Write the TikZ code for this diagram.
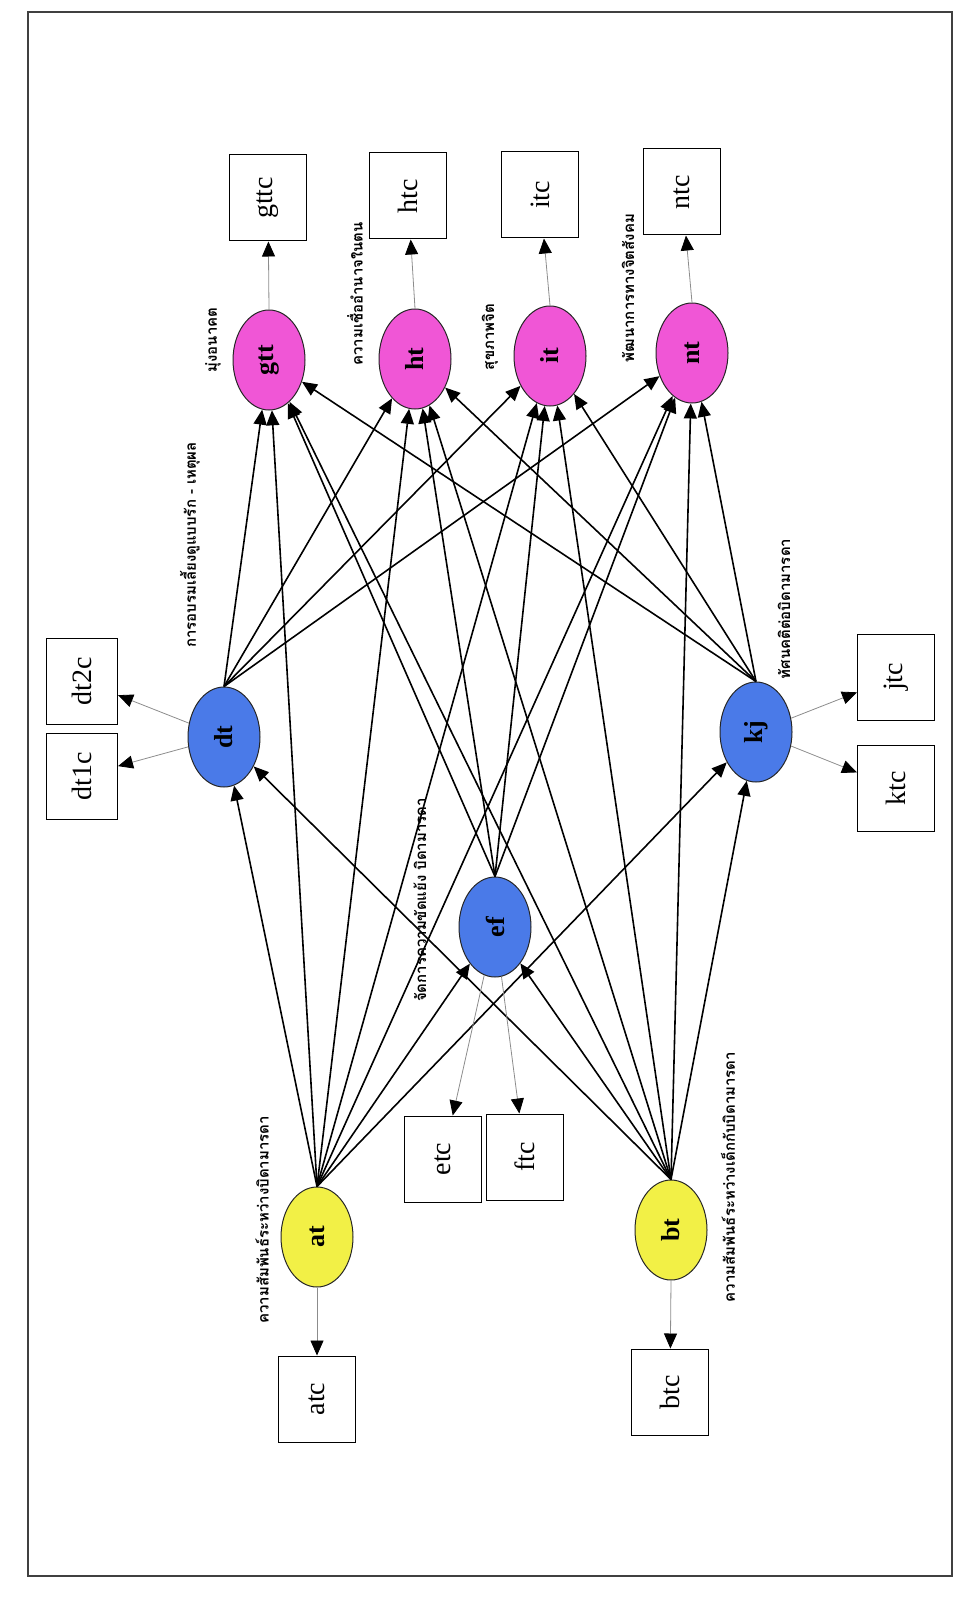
\documentclass[tikz,border=0pt]{standalone}
\usepackage{fontspec}
\setmainfont{Liberation Serif}
\newfontfamily\thaifont[Script=Thai]{Loma}
\usepackage{xcolor}
\usepackage{tikz}
\usetikzlibrary{shapes.geometric,arrows.meta}
\definecolor{ylw}{RGB}{242,240,70}
\definecolor{blu}{RGB}{74,122,232}
\definecolor{pnk}{RGB}{240,86,214}

\begin{document}
\begin{tikzpicture}[x=1pt,y=-1pt,
  ell/.style={ellipse, draw=black!85, line width=1pt, rotate=90,
    minimum width=100pt, minimum height=72pt, inner sep=0pt,
    font=\bfseries\fontsize{26}{26}\selectfont},
  yel/.style={ell, fill=ylw},
  blue/.style={ell, fill=blu},
  pink/.style={ell, fill=pnk},
  box/.style={draw, line width=1pt, rotate=90, minimum width=86pt,
    minimum height=77pt, font=\fontsize{28}{28}\selectfont},
  lbl/.style={rotate=90, inner sep=0pt, font=\thaifont\bfseries\fontsize{15}{15}\selectfont},
  arr/.style={-{Triangle[length=15pt,width=13pt]}, line width=1.6pt},
  outarr/.style={-{Triangle[length=15pt,width=13pt,color=black]},
    draw=black!45, line width=0.8pt}]
  \useasboundingbox (0,0) rectangle (969,1597);
  \draw[line width=1.2pt, black!75] (28,12) rectangle (952,1576);

  \node[yel] (at) at (317,1237) {at};
  \node[yel] (bt) at (671,1230) {bt};
  \node[blue] (dt) at (224,737) {dt};
  \node[blue] (ef) at (495,927) {ef};
  \node[blue] (kj) at (756,732) {kj};
  \node[pink] (gtt) at (269,360) {gtt};
  \node[pink] (ht) at (415,359) {ht};
  \node[pink] (it) at (550,356) {it};
  \node[pink] (nt) at (692,353) {nt};

  \node[box] (atc) at (317,1399) {atc};
  \node[box] (btc) at (670,1392) {btc};
  \node[box] (etc) at (443,1159) {etc};
  \node[box] (ftc) at (525,1157) {ftc};
  \node[box, minimum height=71pt] (dt1c) at (82,776) {dt1c};
  \node[box, minimum height=71pt] (dt2c) at (82,681) {dt2c};
  \node[box] (jtc) at (896,677) {jtc};
  \node[box] (ktc) at (896,788) {ktc};
  \node[box] (gttc) at (268,198) {gttc};
  \node[box] (htc) at (408,196) {htc};
  \node[box] (itc) at (540,195) {itc};
  \node[box] (ntc) at (682,192) {ntc};

  \node[lbl] (atlbl) at (262,1220) {ความสัมพันธ์ระหว่างบิดามารดา};
  \node[lbl] (btlbl) at (728,1177) {ความสัมพันธ์ระหว่างเด็กกับบิดามารดา};
  \node[lbl] (dtlbl) at (190,545) {การอบรมเลี้ยงดูแบบรัก - เหตุผล};
  \node[lbl] (eflbl) at (420,900) {จัดการความขัดแย้ง บิดามารดา};
  \node[lbl] (kjlbl) at (784,609) {ทัศนคติต่อบิดามารดา};
  \node[lbl] (gttlbl) at (213,340) {มุ่งอนาคต};
  \node[lbl] (htlbl) at (355,294) {ความเชื่ออำนาจในตน};
  \node[lbl] (itlbl) at (490,337) {สุขภาพจิต};
  \node[lbl] (ntlbl) at (628,288) {พัฒนาการทางจิตสังคม};

  \draw[arr] (at.east) -- (dt);
  \draw[arr] (at.east) -- (ef);
  \draw[arr] (at.east) -- (kj);
  \draw[arr] (at.east) -- (gtt);
  \draw[arr] (at.east) -- (ht);
  \draw[arr] (at.east) -- (it);
  \draw[arr] (at.east) -- (nt);
  \draw[arr] (bt.east) -- (dt);
  \draw[arr] (bt.east) -- (ef);
  \draw[arr] (bt.east) -- (kj);
  \draw[arr] (bt.east) -- (gtt);
  \draw[arr] (bt.east) -- (ht);
  \draw[arr] (bt.east) -- (it);
  \draw[arr] (bt.east) -- (nt);
  \draw[arr] (dt.east) -- (gtt);
  \draw[arr] (dt.east) -- (ht);
  \draw[arr] (dt.east) -- (it);
  \draw[arr] (dt.east) -- (nt);
  \draw[arr] (ef.east) -- (gtt);
  \draw[arr] (ef.east) -- (ht);
  \draw[arr] (ef.east) -- (it);
  \draw[arr] (ef.east) -- (nt);
  \draw[arr] (kj.east) -- (gtt);
  \draw[arr] (kj.east) -- (ht);
  \draw[arr] (kj.east) -- (it);
  \draw[arr] (kj.east) -- (nt);

  \draw[outarr] (at.west) -- (atc);
  \draw[outarr] (bt.west) -- (btc);
  \draw[outarr] (dt) -- (dt1c);
  \draw[outarr] (dt) -- (dt2c);
  \draw[outarr] (ef) -- (etc);
  \draw[outarr] (ef) -- (ftc);
  \draw[outarr] (kj) -- (jtc);
  \draw[outarr] (kj) -- (ktc);
  \draw[outarr] (gtt.east) -- (gttc);
  \draw[outarr] (ht.east) -- (htc);
  \draw[outarr] (it.east) -- (itc);
  \draw[outarr] (nt.east) -- (ntc);
\end{tikzpicture}
\end{document}
